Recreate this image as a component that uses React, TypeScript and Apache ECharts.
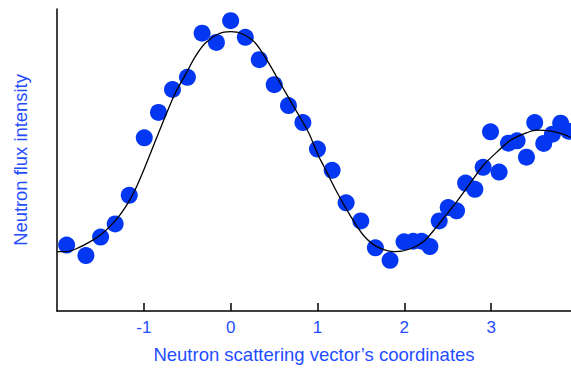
import React, { useEffect, useRef } from "react";
import * as echarts from "echarts";

// Measured points (x in scattering-vector units, y in arbitrary intensity units)
const pointX = [-1.889, -1.667, -1.498, -1.33, -1.168, -0.995, -0.831, -0.67, -0.498, -0.329, -0.164, 0.0, 0.169, 0.33, 0.502, 0.666, 0.832, 1.0, 1.169, 1.33, 1.499, 1.667, 1.836, 1.997, 2.103, 2.2, 2.295, 2.402, 2.506, 2.602, 2.706, 2.813, 2.908, 2.993, 3.092, 3.2, 3.299, 3.407, 3.502, 3.606, 3.706, 3.801, 3.893];
const pointY = [22.1, 18.6, 24.8, 29.2, 38.8, 58.1, 66.6, 74.3, 78.4, 93.2, 90.1, 97.4, 91.8, 84.3, 75.9, 68.9, 63.2, 54.3, 47.2, 36.3, 30.2, 21.2, 17.0, 23.2, 23.4, 23.4, 21.6, 30.2, 34.7, 33.6, 42.9, 40.8, 48.2, 60.1, 46.6, 56.3, 57.1, 51.6, 63.2, 56.2, 59.3, 63.0, 60.3];

// Fitted curve
const curveX = [-1.995, -1.9, -1.785, -1.632, -1.478, -1.325, -1.21, -1.095, -0.98, -0.866, -0.751, -0.636, -0.52, -0.406, -0.291, -0.138, 0.0, 0.131, 0.284, 0.437, 0.591, 0.744, 0.897, 1.011, 1.069, 1.223, 1.376, 1.529, 1.683, 1.893, 2.066, 2.218, 2.372, 2.448, 2.602, 2.755, 2.908, 3.062, 3.215, 3.368, 3.522, 3.675, 3.828, 3.916];
const curveY = [19.9, 19.9, 20.8, 23.0, 26.0, 30.4, 34.9, 41.0, 48.8, 57.1, 65.4, 73.2, 79.3, 85.4, 89.9, 93.0, 93.7, 93.0, 89.9, 83.2, 75.4, 67.7, 59.9, 52.1, 48.8, 39.9, 32.1, 25.4, 21.6, 19.9, 20.8, 23.2, 28.2, 31.0, 36.6, 42.7, 48.8, 53.2, 57.1, 59.3, 60.7, 60.4, 59.3, 58.2];

const tickValues = [-1, 0, 1, 2, 3];
const xName = "Neutron scattering vector\u2019s coordinates";
const yName = "Neutron flux intensity";

const FONT = "'Liberation Sans', Arial, sans-serif";
const BLUE_TEXT = "#1f4dff";
const BLUE_DOT = "#0437f2";

export default function App() {
  const ref = useRef<HTMLDivElement>(null);
  useEffect(() => {
    if (!ref.current) return;
    const chart = echarts.init(ref.current, undefined, { renderer: "svg" });
    const scatterData = pointX.map((x, i) => [x, pointY[i]]);
    const curveData = curveX.map((x, i) => [x, curveY[i]]);
    chart.setOption({
      animation: false,
      backgroundColor: "#ffffff",
      textStyle: { fontFamily: FONT },
      grid: { left: 57, right: 0, top: 9, bottom: 56, containLabel: false },
      xAxis: {
        type: "value",
        min: -2,
        max: 3.92,
        interval: 1,
        name: xName,
        nameLocation: "middle",
        nameGap: 34,
        nameTextStyle: { color: BLUE_TEXT, fontSize: 18.5, fontFamily: FONT },
        axisLine: { show: true, onZero: false, lineStyle: { color: "#000", width: 1.5 } },
        axisTick: { show: true, inside: true, length: 8, customValues: tickValues, lineStyle: { color: "#000", width: 1.5 } },
        axisLabel: { show: true, customValues: tickValues, margin: 8, color: BLUE_TEXT, fontSize: 17, fontFamily: FONT },
        splitLine: { show: false },
      },
      yAxis: {
        type: "value",
        min: 0,
        max: 101.3,
        name: yName,
        nameLocation: "middle",
        nameGap: 28,
        nameTextStyle: { color: BLUE_TEXT, fontSize: 18.4, fontFamily: FONT },
        axisLine: { show: true, onZero: false, lineStyle: { color: "#000", width: 1.5 } },
        axisTick: { show: false },
        axisLabel: { show: false },
        splitLine: { show: false },
      },
      series: [
        {
          type: "scatter",
          data: scatterData,
          symbol: "circle",
          symbolSize: 17,
          itemStyle: { color: BLUE_DOT, opacity: 1 },
          z: 2,
          clip: false,
        },
        {
          type: "line",
          data: curveData,
          smooth: 0.3,
          showSymbol: false,
          symbol: "none",
          lineStyle: { color: "#000", width: 1.3 },
          z: 3,
          clip: true,
        },
      ],
    });
    return () => chart.dispose();
  }, []);
  return (
    <div
      ref={ref}
      style={{ position: "fixed", left: 0, top: 0, width: 571, height: 369, background: "#fff" }}
    />
  );
}
